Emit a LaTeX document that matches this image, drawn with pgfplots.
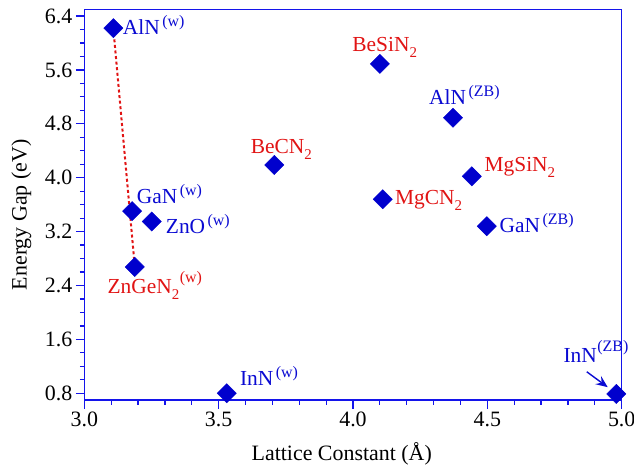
\documentclass[border=0pt]{standalone}
\usepackage{pgfplots}
\pgfplotsset{compat=1.18}
\usepackage{fontspec}
\setmainfont{Liberation Serif}
\usetikzlibrary{arrows.meta}
\definecolor{axisblue}{RGB}{20,20,235}
\definecolor{markblue}{RGB}{0,0,205}
\definecolor{lblblue}{RGB}{10,10,210}
\definecolor{lblred}{RGB}{225,20,20}
\newcommand{\mysup}[1]{\kern2.5bp\raisebox{8bp}{\fontsize{16}{18}\selectfont #1}}
\newcommand{\mysupb}[1]{\kern0.5bp\raisebox{11bp}{\fontsize{16}{18}\selectfont #1}}
\newcommand{\mysub}[1]{\raisebox{-6bp}{\fontsize{15}{18}\selectfont #1}}
\tikzset{
  lblb/.style={font=\fontsize{21.5}{26}\selectfont, text=lblblue, inner sep=0pt, anchor=base west},
  lblr/.style={font=\fontsize{21.5}{26}\selectfont, text=lblred, inner sep=0pt, anchor=base west},
}
\begin{document}
\begin{tikzpicture}
\useasboundingbox (-84.3bp,-66bp) rectangle (549.7bp,400bp);
\begin{axis}[
  scale only axis, width=537.4bp, height=390.7bp,
  xmin=3, xmax=5, ymin=0.7, ymax=6.5,
  clip=false,
  axis line style={draw=axisblue, line width=1.5bp},
  every tick/.style={axisblue, line width=1.2bp},
  tick align=outside, tick pos=left,
  major tick length=8.5bp, minor tick length=4.5bp,
  xtick={3,3.5,4,4.5,5},
  ytick={0.8,1.6,2.4,3.2,4.0,4.8,5.6,6.4},
  minor x tick num=4, minor y tick num=3,
  xticklabel style={font=\fontsize{22}{26}\selectfont,
    /pgf/number format/fixed, /pgf/number format/fixed zerofill,
    /pgf/number format/precision=1, /pgf/number format/assume math mode=true},
  yticklabel style={font=\fontsize{22}{26}\selectfont,
    /pgf/number format/fixed, /pgf/number format/fixed zerofill,
    /pgf/number format/precision=1, /pgf/number format/assume math mode=true},
  xlabel={Lattice Constant (Å)},
  ylabel={Energy Gap (eV)},
  xlabel style={font=\fontsize{22}{26}\selectfont, at={(axis description cs:0.479,0)}, anchor=base, yshift=-60bp},
  ylabel style={font=\fontsize{22}{26}\selectfont, at={(axis description cs:0,0.474)}, anchor=base, yshift=57.6bp},
]
\addplot[only marks, mark=square*, mark size=6.8bp, mark options={rotate=45, fill=markblue, draw=markblue}]
coordinates {
(3.108,6.22) (3.178,3.505) (3.251,3.35) (3.707,4.19) (3.188,2.675)
(3.530,0.80) (4.100,5.69) (4.372,4.89) (4.442,4.02) (4.111,3.68)
(4.498,3.28) (4.980,0.79)
};
\addplot[lblred, line width=2bp, dash pattern=on 3bp off 2.6bp] coordinates {(3.108,6.22) (3.188,2.675)};
\node[lblb] at (axis cs:3.143,6.122) {AlN\mysup{(w)}};
\node[lblb] at (axis cs:3.195,3.623) {GaN\mysup{(w)}};
\node[lblb] at (axis cs:3.303,3.170) {ZnO\mysup{(w)}};
\node[lblr] at (axis cs:3.619,4.355) {BeCN\mysub{2}};
\node[lblr] at (axis cs:3.086,2.281) {ZnGeN\mysub{2}\mysupb{(w)}};
\node[lblb] at (axis cs:3.579,0.912) {InN\mysup{(w)}};
\node[lblr] at (axis cs:3.997,5.875) {BeSiN\mysub{2}};
\node[lblb] at (axis cs:4.283,5.085) {AlN\mysup{(ZB)}};
\node[lblr] at (axis cs:4.489,4.097) {MgSiN\mysub{2}};
\node[lblr] at (axis cs:4.156,3.604) {MgCN\mysub{2}};
\node[lblb] at (axis cs:4.545,3.193) {GaN\mysup{(ZB)}};
\node[lblb] at (axis cs:4.783,1.259) {InN\mysupb{(ZB)}};
\draw[lblblue, line width=1.4bp, -{Stealth[length=12bp, width=10bp, inset=4.5bp]}] (axis cs:4.870,1.119) -- (axis cs:4.948,0.890);
\end{axis}
\end{tikzpicture}
\end{document}
